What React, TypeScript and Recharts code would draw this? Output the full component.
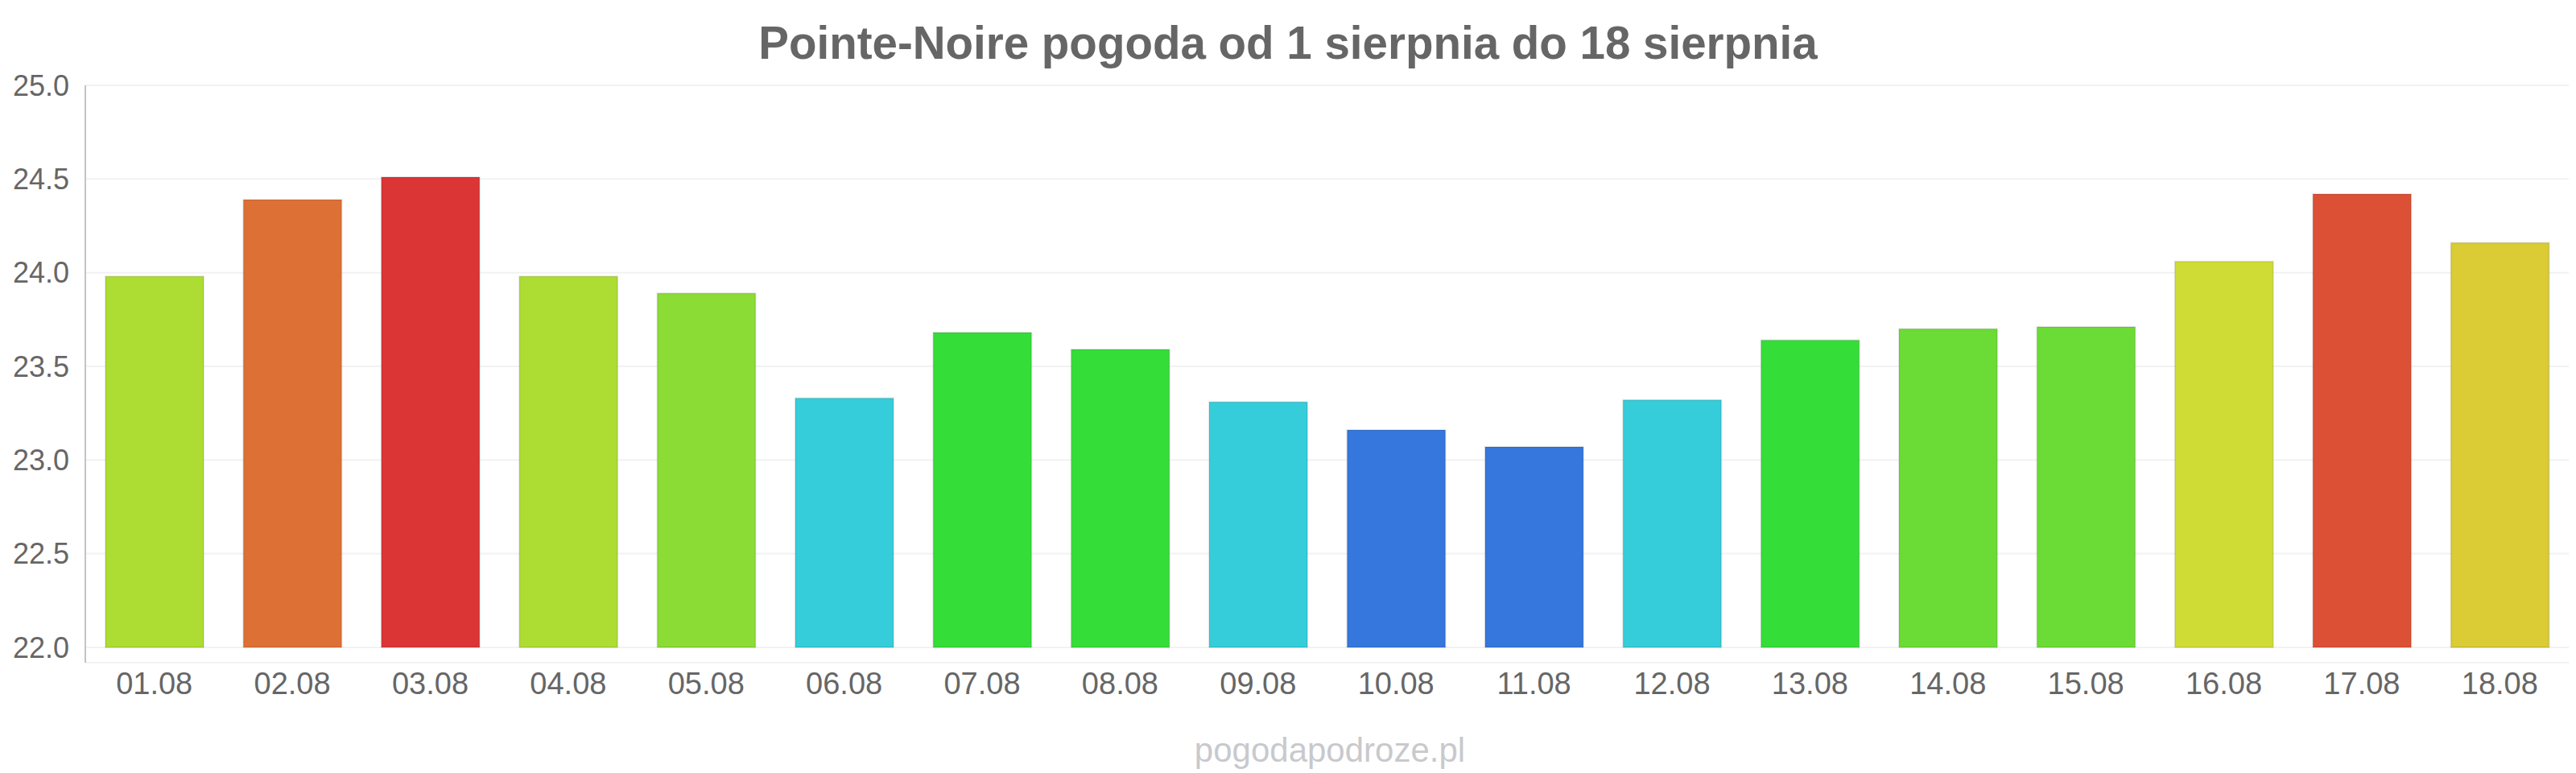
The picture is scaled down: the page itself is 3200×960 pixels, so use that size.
import React from 'react';
import { BarChart, Bar, Cell, XAxis, YAxis, CartesianGrid } from 'recharts';

const days = ['01.08', '02.08', '03.08', '04.08', '05.08', '06.08', '07.08', '08.08', '09.08', '10.08', '11.08', '12.08', '13.08', '14.08', '15.08', '16.08', '17.08', '18.08'];
const temps = [23.98, 24.39, 24.51, 23.98, 23.89, 23.33, 23.68, 23.59, 23.31, 23.16, 23.07, 23.32, 23.64, 23.7, 23.71, 24.06, 24.42, 24.16];
const barColors = ['#addd33', '#dd7035', '#db3536', '#addd33', '#8bdc35', '#35cdd9', '#35dd38', '#35dd38', '#35cdd9', '#3577dc', '#3577dc', '#35cdd9', '#35dd38', '#6bdc35', '#6bdc35', '#cedc35', '#dc5035', '#dbcb35'];
const yTicks = [22, 22.5, 23, 23.5, 24, 24.5, 25];
const baseTemp = 22;

const title = 'Pointe-Noire pogoda od 1 sierpnia do 18 sierpnia';
const watermark = 'pogodapodroze.pl';

const font = '"Liberation Sans", Arial, sans-serif';

// bars are drawn as ranges from 22.0 so the axis line can run a bit below the lowest tick
const chartData = days.map((day, i) => ({ day, range: [baseTemp, temps[i]] }));

export default function App() {
  return (
    <div style={{ position: 'absolute', left: 0, top: 0, width: 3200, height: 960, background: '#fff', fontFamily: font }}>
      <div style={{ position: 'absolute', left: 0, top: 26, width: 3200, textAlign: 'center', fontSize: 56.5, lineHeight: '56px', fontWeight: 'bold', color: '#666' }}>
        {title}
      </div>
      <BarChart width={3200} height={960} data={chartData} margin={{ top: 106, right: 9, bottom: 0, left: 0 }}>
        <CartesianGrid vertical={false} stroke="#f2f2f2" strokeWidth={2} />
        <XAxis
          dataKey="day"
          height={137}
          axisLine={false}
          tickLine={false}
          tickSize={0}
          tickMargin={12}
          interval={0}
          tick={{ fill: '#666', fontSize: 38, fontFamily: font }}
        />
        <YAxis
          width={106}
          domain={[21.918, 25]}
          ticks={yTicks}
          allowDataOverflow
          tickFormatter={(v: number) => v.toFixed(1)}
          axisLine={{ stroke: '#c4c4c4', strokeWidth: 2 }}
          tickLine={false}
          tickSize={0}
          tickMargin={20}
          tick={{ fill: '#666', fontSize: 36, fontFamily: font }}
        />
        <Bar dataKey="range" barSize={122} isAnimationActive={false} stroke="rgba(0,0,0,0.1)" strokeWidth={2}>
          {chartData.map((d, i) => (
            <Cell key={d.day} fill={barColors[i]} />
          ))}
        </Bar>
      </BarChart>
      <div style={{ position: 'absolute', left: 1652, top: 911, transform: 'translateX(-50%)', fontSize: 42, lineHeight: '42px', color: '#c8c9cd', whiteSpace: 'nowrap' }}>
        {watermark}
      </div>
    </div>
  );
}
